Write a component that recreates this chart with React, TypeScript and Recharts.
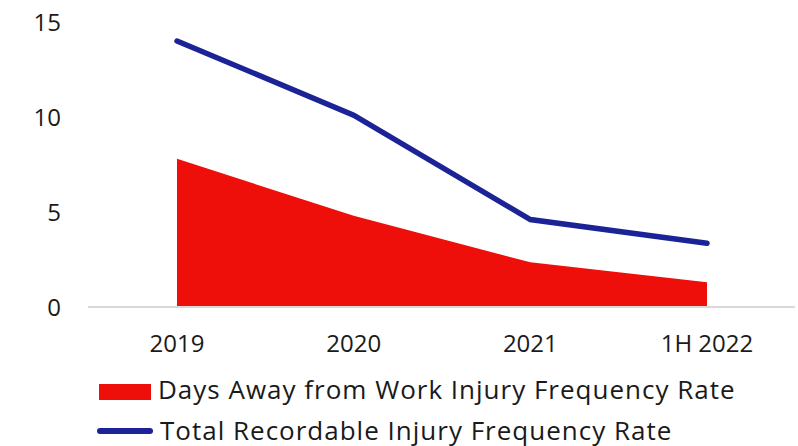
import { ComposedChart, Area, Line, XAxis, YAxis } from 'recharts';

// Kategorien und Werte
const categories = ['2019', '2020', '2021', '1H 2022'];
const daysAwayRate = [7.8, 4.8, 2.35, 1.3];
const totalRecordableRate = [14.0, 10.1, 4.6, 3.35];
const yTicks = [0, 5, 10, 15];

const RED = '#ee0e0a';
const BLUE = '#1b2396';
const FONT = '"Open Sans", Lato, sans-serif';

const data = categories.map((name, i) => ({
  name,
  daysAway: daysAwayRate[i],
  totalRecordable: totalRecordableRate[i],
}));

const legendItems = [
  { key: 'daysAway', label: 'Days Away from Work Injury Frequency Rate', kind: 'rect', color: RED },
  { key: 'totalRecordable', label: 'Total Recordable Injury Frequency Rate', kind: 'line', color: BLUE },
];

const ChartLegend = () => (
  <div
    style={{
      position: 'absolute',
      left: 97,
      top: 374,
      display: 'flex',
      flexDirection: 'column',
      gap: 11,
      fontFamily: FONT,
      fontSize: 26,
      letterSpacing: 1,
      color: '#1a1a1a',
    }}
  >
    {legendItems.map((item) => (
      <div key={item.key} style={{ display: 'flex', alignItems: 'center', height: 30 }}>
        {item.kind === 'rect' ? (
          <div style={{ width: 52, height: 16, marginLeft: 2, marginTop: 5, background: item.color }} />
        ) : (
          <div style={{ width: 56, height: 6, borderRadius: 3, marginTop: 2, background: item.color }} />
        )}
        <span style={{ marginLeft: 7, lineHeight: '30px', whiteSpace: 'nowrap' }}>{item.label}</span>
      </div>
    ))}
  </div>
);

export default function App() {
  return (
    <div style={{ position: 'absolute', left: 0, top: 0, width: 798, height: 446, background: '#fff', overflow: 'hidden' }}>
      <ComposedChart
        width={798}
        height={446}
        data={data}
        margin={{ top: 22, right: 3, left: 0, bottom: 109 }}
      >
        <XAxis
          dataKey="name"
          height={30}
          padding={{ left: 89, right: 88 }}
          axisLine={{ stroke: '#d9d9d9', strokeWidth: 2 }}
          tickLine={false}
          tickMargin={22}
          tick={{ fill: '#1a1a1a', fontSize: 24, fontFamily: FONT }}
          interval={0}
        />
        <YAxis
          width={88}
          domain={[0, 15]}
          ticks={yTicks}
          axisLine={false}
          tickLine={false}
          tickMargin={21}
          tick={{ fill: '#1a1a1a', fontSize: 24, fontFamily: FONT }}
        />
        <Area
          type="linear"
          dataKey="daysAway"
          fill={RED}
          fillOpacity={1}
          stroke="none"
          isAnimationActive={false}
        />
        <Line
          type="linear"
          dataKey="totalRecordable"
          stroke={BLUE}
          strokeWidth={5.5}
          strokeLinecap="round"
          dot={false}
          activeDot={false}
          isAnimationActive={false}
        />
      </ComposedChart>
      <ChartLegend />
    </div>
  );
}
